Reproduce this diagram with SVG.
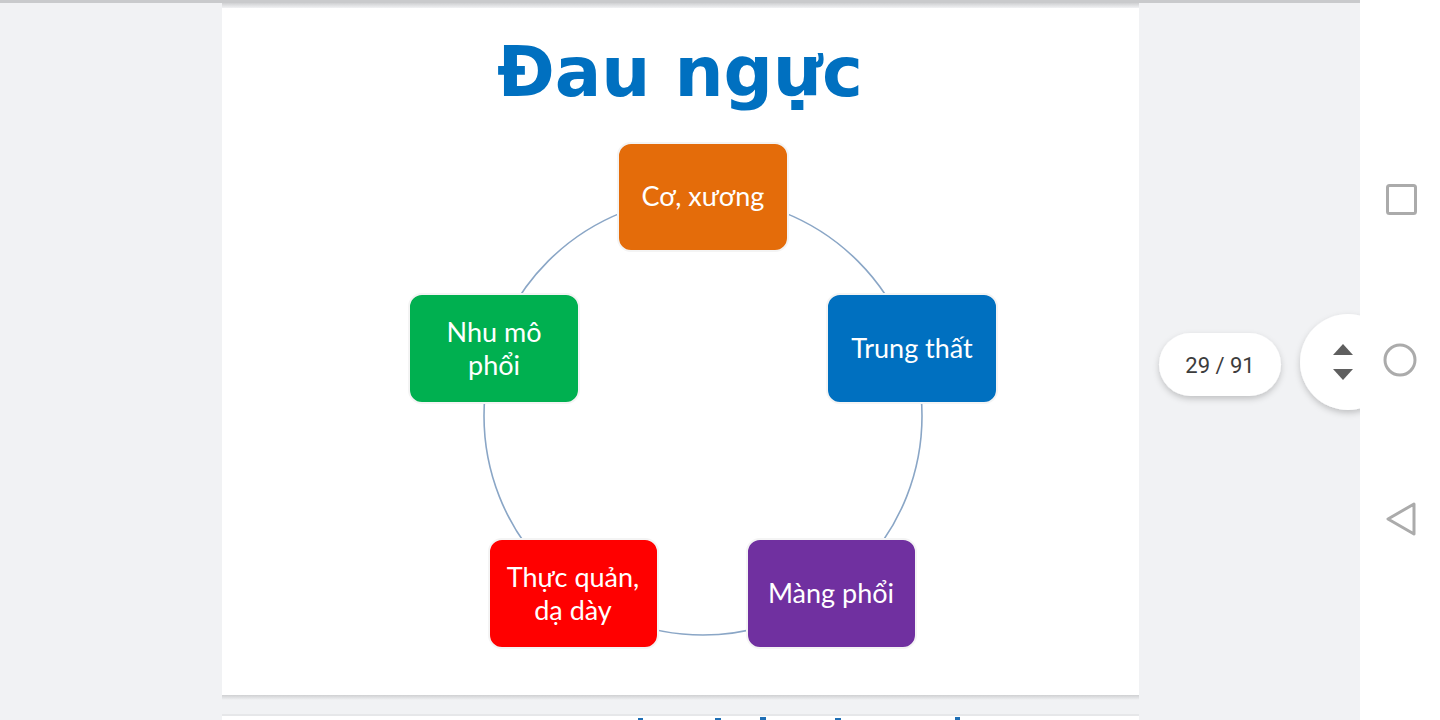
<svg xmlns="http://www.w3.org/2000/svg" width="1440" height="720" viewBox="0 0 1440 720">
<defs>
<style>
.box{stroke:#f4f4f4;stroke-width:2}
.lbl{font-family:Lato,"Open Sans","Noto Sans",sans-serif;font-size:27px;fill:#ffffff;text-anchor:middle}
.nav{fill:none;stroke:#ababab;stroke-width:3}
</style>
<filter id="sh" x="-30%" y="-30%" width="160%" height="170%">
<feDropShadow dx="0" dy="3" stdDeviation="3" flood-color="#000" flood-opacity="0.2"/>
</filter>
<linearGradient id="topsh" x1="0" y1="0" x2="0" y2="1">
<stop offset="0" stop-color="#cfd0d2"/><stop offset="1" stop-color="#f1f2f4"/>
</linearGradient>
</defs>
<rect x="0" y="0" width="1440" height="720" fill="#f1f2f4"/>
<rect x="0" y="0" width="1360" height="3" fill="#c9cacc"/>
<rect x="222" y="3" width="917" height="5" fill="url(#topsh)"/>
<rect x="222" y="8" width="917" height="687" fill="#ffffff"/>
<rect x="222" y="695" width="917" height="5" fill="url(#topsh)"/>
<rect x="222" y="714" width="917" height="2" fill="#e6e7e9"/>
<rect x="222" y="716" width="917" height="4" fill="#ffffff"/>
<g fill="#1f6fb5">
<rect x="638" y="718" width="5" height="2"/>
<rect x="715" y="718" width="6" height="2"/>
<rect x="760" y="717" width="6" height="3"/>
<rect x="835" y="718" width="6" height="2"/>
<rect x="955" y="717" width="5" height="3"/>
</g>

<text x="680" y="96" font-family="'DejaVu Sans',Verdana,sans-serif" font-weight="bold" font-size="69" fill="#0070c0" text-anchor="middle">Đau ngực</text>

<g id="connectors">
<circle cx="703" cy="416" r="219" fill="none" stroke="#8aa6c6" stroke-width="1.6"/>
</g>

<g id="node-co-xuong">
<rect class="box" x="618" y="143" width="170" height="108" rx="13" fill="#e46c0a"/>
<text class="lbl" x="703" y="206">Cơ, xương</text>
</g>
<g id="node-trung-that">
<rect class="box" x="827" y="294" width="170" height="109" rx="13" fill="#0070c0"/>
<text class="lbl" x="912" y="358">Trung thất</text>
</g>
<g id="node-mang-phoi">
<rect class="box" x="747" y="539" width="169" height="109" rx="13" fill="#7030a0"/>
<text class="lbl" x="831" y="603">Màng phổi</text>
</g>
<g id="node-thuc-quan">
<rect class="box" x="489" y="539" width="169" height="109" rx="13" fill="#ff0000"/>
<text class="lbl" x="573" y="587">Thực quản,</text>
<text class="lbl" x="573" y="620">dạ dày</text>
</g>
<g id="node-nhu-mo">
<rect class="box" x="409" y="294" width="170" height="109" rx="13" fill="#00b050"/>
<text class="lbl" x="494" y="342">Nhu mô</text>
<text class="lbl" x="494" y="375">phổi</text>
</g>

<g id="page-indicator">
<rect x="1159" y="333" width="122" height="63" rx="31.5" fill="#ffffff" filter="url(#sh)"/>
<text x="1220" y="373" font-family="Roboto,'Noto Sans',sans-serif" font-size="22" fill="#3c3c3c" text-anchor="middle">29 / 91</text>
</g>
<g id="scroll-button">
<circle cx="1348" cy="362" r="48" fill="#ffffff" filter="url(#sh)"/>
<polygon points="1333,355 1353,355 1343,344" fill="#5f5f5f"/>
<polygon points="1333,369 1353,369 1343,380" fill="#5f5f5f"/>
</g>
<rect x="1360" y="0" width="80" height="720" fill="#ffffff"/>
<g id="nav-bar">
<rect class="nav" x="1387.5" y="185.5" width="28" height="28" rx="2"/>
<circle class="nav" cx="1400" cy="360" r="15"/>
<path class="nav" d="M1414,504 L1388,519 L1414,534 Z" stroke-linejoin="round"/>
</g>
</svg>
